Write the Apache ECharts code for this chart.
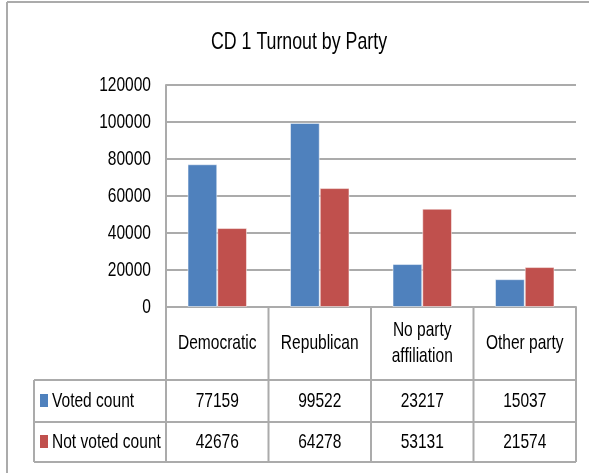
<!DOCTYPE html>
<html>
<head>
<meta charset="utf-8">
<script src="https://cdn.jsdelivr.net/npm/echarts@6/dist/echarts.min.js"></script>
<style>
	html, body { margin: 0; padding: 0; background: #fff; }
	#chart { width: 589px; height: 473px; }
</style>
</head>
<body>
<div id="chart"></div>
<script>
var categories = ['Democratic', 'Republican', 'No party\naffiliation', 'Other party'];
var votedCount = [77159, 99522, 23217, 15037];
var notVotedCount = [42676, 64278, 53131, 21574];
var seriesNames = ['Voted count', 'Not voted count'];
var yTicks = [0, 20000, 40000, 60000, 80000, 100000, 120000];
var titleText = 'CD 1 Turnout by Party';

// Calibri look-alike: Arial metrics squeezed horizontally
var FONT = '"Liberation Sans", Arial, sans-serif';
var SQUEEZE = 0.74;
var LINE = '#ABABAB';
var BLUE = '#4F81BD';
var RED = '#C0504D';

var chart = echarts.init(document.getElementById('chart'));

chart.setOption({
	backgroundColor: '#fff',
	animation: false,
	grid: { left: 166, right: 13, top: 85, bottom: 166 },
	xAxis: {
		type: 'category',
		data: categories,
		axisLine: { lineStyle: { color: LINE, width: 2 } },
		axisTick: { show: false },
		axisLabel: { show: false }
	},
	yAxis: {
		type: 'value',
		min: yTicks[0],
		max: yTicks[yTicks.length - 1],
		interval: 20000,
		axisLine: { show: true, lineStyle: { color: LINE, width: 2 } },
		axisTick: { show: false },
		axisLabel: { show: false },
		splitLine: { lineStyle: { color: LINE, width: 2 } }
	},
	series: [{
		name: seriesNames[0],
		type: 'bar',
		data: votedCount,
		barGap: '0%',
		barCategoryGap: '42%',
		itemStyle: { color: BLUE, borderColor: 'rgba(255,255,255,0.5)', borderWidth: 1 }
	}, {
		name: seriesNames[1],
		type: 'bar',
		data: notVotedCount,
		itemStyle: { color: RED, borderColor: 'rgba(255,255,255,0.5)', borderWidth: 1 }
	}]
});

function txt(str, x, y, size, align) {
	return {
		type: 'text', x: x, y: y, z: 10, scaleX: SQUEEZE,
		style: {
			text: str, fontFamily: FONT, fontSize: size, fill: '#000',
			align: align || 'center', verticalAlign: 'middle', lineHeight: 26
		}
	};
}

// title, axis labels and the data table, placed from the axis pixel positions
function buildTable() {
	var x0 = chart.convertToPixel({ xAxisIndex: 0 }, 0);
	var x1 = chart.convertToPixel({ xAxisIndex: 0 }, 1);
	var colW = x1 - x0;
	var left = x0 - colW / 2;
	var right = left + colW * categories.length;
	var axisY = chart.convertToPixel({ yAxisIndex: 0 }, 0);
	var tableLeft = 34;
	var rowTops = [380, 422, 462];
	var g = [];
	var ls = { stroke: LINE, lineWidth: 2 };

	function line(xa, ya, xb, yb) {
		g.push({ type: 'line', shape: { x1: xa, y1: ya, x2: xb, y2: yb }, style: ls, z: 10 });
	}

	g.push(txt(titleText, 299, 42, 24));

	yTicks.forEach(function (t) {
		g.push(txt(String(t), 151, chart.convertToPixel({ yAxisIndex: 0 }, t), 21, 'right'));
	});

	categories.forEach(function (c, i) {
		g.push(txt(c, chart.convertToPixel({ xAxisIndex: 0 }, i), (axisY + rowTops[0]) / 2, 21));
	});

	// outer chart frame
	line(7, 2, 589, 2);
	line(7, 2, 7, 473);

	rowTops.forEach(function (y) { line(tableLeft, y, right, y); });
	line(tableLeft, rowTops[0], tableLeft, rowTops[2]);
	line(left, axisY, left, rowTops[2]);
	for (var i = 1; i <= categories.length; i++) {
		line(left + colW * i, axisY, left + colW * i, rowTops[2]);
	}

	var rows = [votedCount, notVotedCount];
	var colors = [BLUE, RED];
	rows.forEach(function (vals, r) {
		var cy = (rowTops[r] + rowTops[r + 1]) / 2;
		g.push({ type: 'rect', shape: { x: 40, y: cy - 7, width: 8, height: 13 }, style: { fill: colors[r] }, z: 10 });
		g.push(txt(seriesNames[r], 52, cy, 21, 'left'));
		vals.forEach(function (v, c) {
			g.push(txt(String(v), chart.convertToPixel({ xAxisIndex: 0 }, c), cy, 21));
		});
	});

	chart.setOption({ graphic: g });
}

buildTable();
</script>
</body>
</html>
